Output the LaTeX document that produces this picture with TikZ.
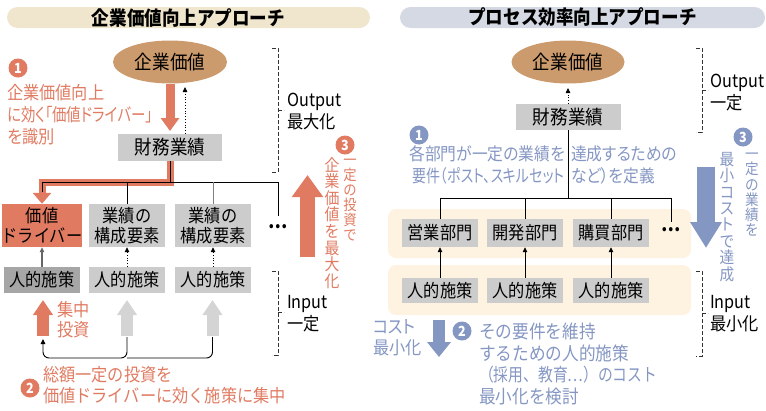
\documentclass[tikz,border=0pt]{standalone}
\usepackage{fontspec}
\setmainfont{Noto Sans CJK JP}[FakeStretch=0.9]
\newfontfamily\jpp{Noto Sans CJK JP}[Script=CJK,RawFeature=+palt,FakeStretch=0.9]
\newfontfamily\jpc{Noto Sans CJK JP}[Script=CJK,RawFeature=+palt,FakeStretch=0.8]
\newfontfamily\jpq{Noto Sans CJK JP}[FakeStretch=0.82]
\usetikzlibrary{arrows.meta,shapes.geometric}
\definecolor{ora}{HTML}{E07B62}
\definecolor{tanc}{HTML}{CC9B6D}
\definecolor{gboxc}{HTML}{CCCCCC}
\definecolor{dgboxc}{HTML}{A6A6A6}
\definecolor{garc}{HTML}{D4D4D4}
\definecolor{beigeT}{HTML}{F0E6CE}
\definecolor{blueT}{HTML}{D4D9E3}
\definecolor{bandc}{HTML}{FDF3E0}
\definecolor{blu}{HTML}{8496C2}
\definecolor{linec}{HTML}{333333}
\begin{document}
\begin{tikzpicture}[x=1pt,y=-1pt,
  pill/.style={rounded corners=10.5pt, minimum height=21pt, inner sep=0pt, font=\fontsize{19.5}{21}\selectfont\bfseries},
  val/.style={ellipse, fill=tanc, minimum width=114pt, minimum height=43pt, inner sep=0pt, font=\fontsize{19.5}{21}\selectfont},
  gb/.style={fill=gboxc, minimum width=76pt, inner sep=0pt, align=center, font=\fontsize{18}{20}\selectfont},
  num/.style={circle, inner sep=0pt, minimum size=19pt, text=white, font=\fontsize{14}{14}\selectfont\bfseries},
  otxt/.style={text=ora, inner sep=0pt, anchor=west, font=\fontsize{18}{19}\selectfont},
  btxt/.style={text=blu, inner sep=0pt, anchor=west, font=\fontsize{17.5}{19}\selectfont\jpp},
  iotxt/.style={inner sep=0pt, anchor=west, align=left, font=\fontsize{18}{22}\selectfont},
  vt/.style={inner sep=0pt, anchor=north, align=center},
  brk/.style={dash pattern=on 4pt off 2pt, line width=0.8pt, linec},
  tip/.style={-{Triangle[width=4.5pt,length=5pt]}},
  dotarr/.style={dotted, line width=0.8pt, tip},
  tree/.style={line width=0.9pt, black},
  dots/.style={inner sep=0pt, font=\fontsize{19}{19}\selectfont\bfseries},
]
\useasboundingbox (0,0) rectangle (766,410);

% ================= LEFT PANEL =================
\node[pill, fill=beigeT, minimum width=363pt] (ltitle) at (188.5,17.5) {企業価値向上アプローチ};

\node[val] (lval) at (170,62) {企業価値};
\node[gb, minimum width=104pt, minimum height=27pt, font=\fontsize{19.5}{21}\selectfont] (lperf) at (170,147.5) {財務業績};

\node[gb, fill=ora, minimum height=43pt] (lc1) at (42,225.5) {価値\\ドライバー};
\node[gb, minimum height=43pt] (lc2) at (127,225.5) {業績の\\構成要素};
\node[gb, minimum height=43pt] (lc3) at (213,225.5) {業績の\\構成要素};
\node[dots] (ldots) at (278,227) {…};

\node[gb, fill=dgboxc, minimum height=26pt] (lh1) at (42,280) {人的施策};
\node[gb, minimum height=26pt] (lh2) at (127,280) {人的施策};
\node[gb, minimum height=26pt] (lh3) at (213,280) {人的施策};

% orange arrow value -> performance
\draw[ora, line width=9pt, -{Triangle[width=18pt,length=13pt]}] (lval.south) -- (170,131);
% dotted arrow performance -> value
\draw[dotarr] ([xshift=15pt]lperf.north) -- (185,87);

% orange highlighted path to value driver
\draw[ora, line width=7pt, -{Triangle[width=18pt,length=11pt]}] (lperf.south) -- (170,182) -- (42,182) -- (lc1.north);
% tree
\draw[tree] (lperf.south) -- (170,182);
\draw[tree] (42,192) -- (42,182) -- (278,182) -- (278,216);
\draw[tree] (127,182) -- (lc2.north);
\draw[line width=0.9pt, gray] (213,182) -- (lc3.north);

% arrows from measures to elements
\draw[line width=1.2pt, gray!80!black, tip] (lh1.north) -- (lc1.south);
\draw[dotarr] (lh2.north) -- (lc2.south);
\draw[dotarr] (lh3.north) -- (lc3.south);

% investment arrows
\draw[ora, line width=12pt, -{Triangle[width=19pt,length=15pt]}] (43,336) -- (43,300);
\draw[garc, line width=12pt, -{Triangle[width=19pt,length=15pt]}] (127,336) -- (127,300);
\draw[garc, line width=12pt, -{Triangle[width=19pt,length=15pt]}] (212.5,336) -- (212.5,300);
\coordinate (oa1b) at (43,339);
\coordinate (ga2b) at (127,337);
\coordinate (ga3b) at (212.5,337);
\coordinate (lbase) at (0,358);
\draw[tree, rounded corners=6pt, tip] (ga2b) -- (ga2b |- lbase) -- (oa1b |- lbase) -- (oa1b);
\draw[tree, rounded corners=6pt] (ga3b) -- (ga3b |- lbase) -- (ga2b |- lbase);

\node[otxt, align=left, font=\fontsize{18}{20}\selectfont] (focus) at (57,320) {集中\\投資};

% annotation 1
\node[num, fill=ora] (ln1) at (18,68) {1};
\node[otxt, font=\fontsize{18}{19}\selectfont\jpp] (lt1a) at (7,93) {企業価値向上};
\node[otxt, font=\fontsize{18}{19}\selectfont\jpc] (lt1b) at (7,115) {に効く「価値ドライバー」};
\node[otxt, font=\fontsize{18}{19}\selectfont\jpp] (lt1c) at (7,137) {を識別};

% annotation 2
\node[num, fill=ora] (ln2) at (30,388) {2};
\node[otxt] (lt2a) at (43,375) {総額一定の投資を};
\node[otxt] (lt2b) at (43,396) {価値ドライバーに効く施策に集中};

% annotation 3
\draw[ora, line width=15pt, -{Triangle[width=30pt,length=22pt]}] (307.5,257) -- (307.5,175);
\node[num, fill=ora] (ln3) at (345,145) {3};
\node[vt, text=ora, font=\fontsize{16.5}{16.6}\selectfont] (lt3a) at (332,157) {企\\業\\価\\値\\を\\最\\大\\化};
\node[vt, text=ora, font=\fontsize{14.8}{14.9}\selectfont] (lt3b) at (350,159) {一\\定\\の\\投\\資\\で};

% brackets
\draw[brk] (272,48) -- (278,48) -- (278,172) -- (272,172);
\draw[brk] (278,110) -- (284,110);
\node[iotxt] (lout) at (287,111.5) {Output\\最大化};
\draw[brk] (272,271) -- (278,271) -- (278,355) -- (272,355);
\draw[brk] (278,312) -- (284,312);
\node[iotxt] (lin) at (287,314) {Input\\一定};

% ================= RIGHT PANEL =================
\node[pill, fill=blueT, minimum width=365pt] (rtitle) at (582.5,17.5) {プロセス効率向上アプローチ};

\node[val, minimum width=113pt] (rval) at (568,62) {企業価値};
\node[gb, minimum width=105pt, minimum height=26pt, font=\fontsize{19.5}{21}\selectfont] (rperf) at (568,117) {財務業績};
\draw[dotarr] (rperf.north) -- (568,88);

\fill[bandc, rounded corners=8pt] (388,209) rectangle (691,258);
\fill[bandc, rounded corners=8pt] (388,265) rectangle (691,315);

\node[gb, minimum height=28pt] (rd1) at (440,233) {営業部門};
\node[gb, minimum height=28pt] (rd2) at (525,233) {開発部門};
\node[gb, minimum height=28pt] (rd3) at (611,233) {購買部門};
\node[dots] (rdots) at (671,230) {…};

\node[gb, minimum height=25pt] (rh1) at (440,290.5) {人的施策};
\node[gb, minimum height=25pt] (rh2) at (525,290.5) {人的施策};
\node[gb, minimum height=25pt] (rh3) at (611,290.5) {人的施策};

\draw[tip, line width=0.8pt] (rh1.north) -- (rd1.south);
\draw[tip, line width=0.8pt] (rh2.north) -- (rd2.south);
\draw[tip, line width=0.8pt] (rh3.north) -- (rd3.south);

% annotation 1 (text under the tree line)
\node[num, fill=blu] (rn1) at (419,135) {1};
\node[btxt, anchor=east] (rt1a) at (565,154) {各部門が一定の業績を};
\node[btxt] (rt1b) at (571,154) {達成するための};
\node[btxt, anchor=east, font=\fontsize{17.5}{19}\selectfont\jpc] (rt1c) at (565,176) {要件（ポスト、スキルセット};
\node[btxt] (rt1d) at (571,176) {など）を定義};

% tree
\draw[tree] (rperf.south) -- (568,198);
\draw[tree] (440,198) -- (671,198) -- (671,222);
\draw[tree] (440,198) -- (rd1.north);
\draw[tree] (525,198) -- (rd2.north);
\draw[tree] (611,198) -- (rd3.north);

% annotation 3
\draw[blu, line width=18pt, -{Triangle[width=30pt,length=26pt]}] (706,167) -- (706,248);
\node[num, fill=blu] (rn3) at (743,137) {3};
\node[vt, text=blu, font=\fontsize{16.3}{16.4}\selectfont] (rt3a) at (727,152) {最\\小\\コ\\ス\\ト\\で\\達\\成};
\node[vt, text=blu, font=\fontsize{15.1}{15.2}\selectfont] (rt3b) at (752,153) {一\\定\\の\\業\\績\\を};

% annotation 2
\node[btxt, align=left, font=\fontsize{18}{21}\selectfont\jpp] (rcost) at (373,337.5) {コスト\\最小化};
\draw[blu, line width=12pt, -{Triangle[width=23pt,length=15pt]}] (439,320) -- (439,357);
\node[num, fill=blu] (rn2) at (462,331) {2};
\node[btxt, font=\fontsize{18.5}{19}\selectfont] (rt2a) at (479,331) {その要件を維持};
\node[btxt, font=\fontsize{18.5}{19}\selectfont] (rt2b) at (479,353) {するための人的施策};
\node[btxt, font=\fontsize{18}{19}\selectfont\jpq] (rt2c) at (479,375) {（採用、教育…）のコスト};
\node[btxt, font=\fontsize{18.5}{19}\selectfont] (rt2d) at (479,397) {最小化を検討};

% brackets
\draw[brk] (696,48) -- (702,48) -- (702,132) -- (696,132);
\draw[brk] (702,90) -- (708,90);
\node[iotxt] (rout) at (710,92.5) {Output\\一定};
\draw[brk] (696,271) -- (702,271) -- (702,356) -- (696,356);
\draw[brk] (702,313) -- (708,313);
\node[iotxt] (rin) at (710,314) {Input\\最小化};
\end{tikzpicture}
\end{document}
